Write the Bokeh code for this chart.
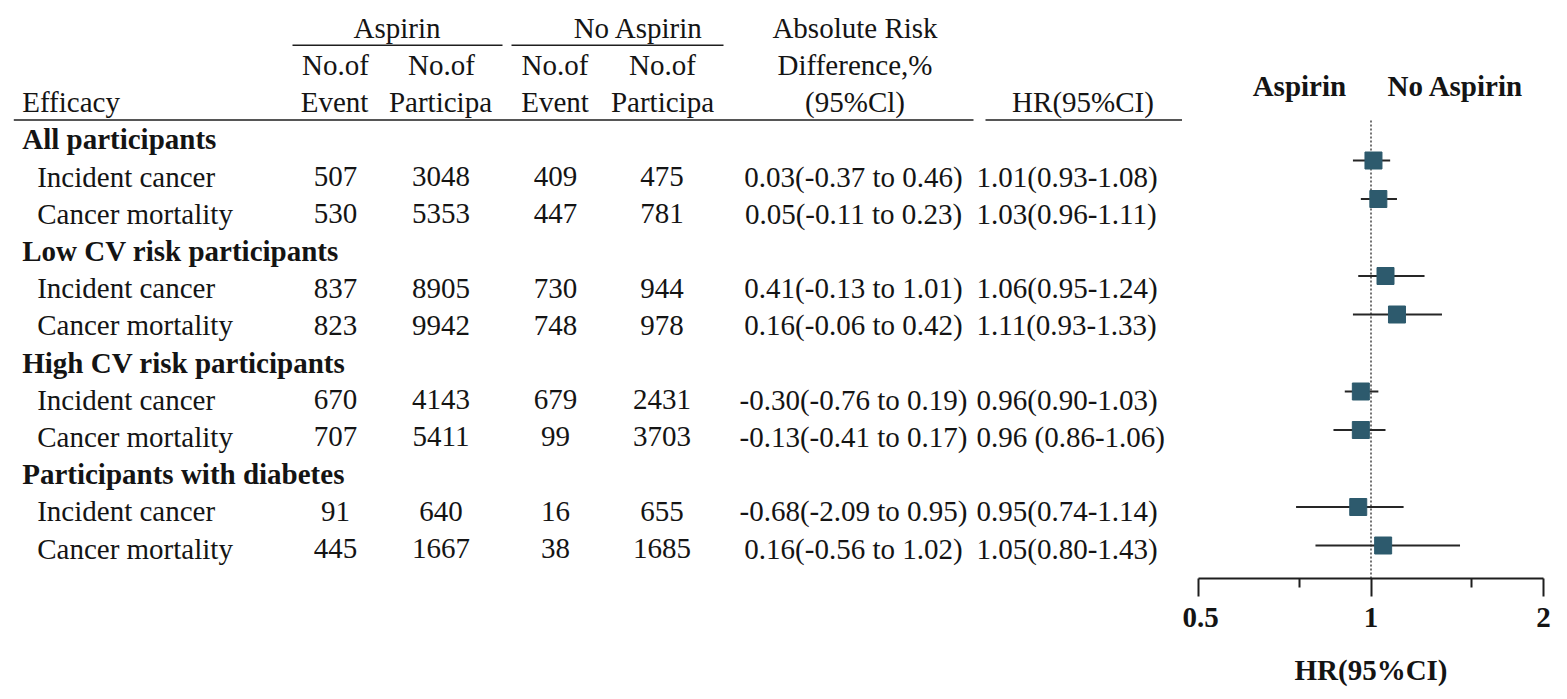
from bokeh.plotting import figure
from bokeh.layouts import row
from bokeh.models import Range1d, FixedTicker
from bokeh.core.properties import value
from bokeh.embed import file_html
from bokeh.resources import INLINE

# ---------------- data ----------------
groups = ["All participants", "Low CV risk participants",
          "High CV risk participants", "Participants with diabetes"]
outcomes = ["Incident cancer", "Cancer mortality"] * 4
asp_events = [507, 530, 837, 823, 670, 707, 91, 445]
asp_participants = [3048, 5353, 8905, 9942, 4143, 5411, 640, 1667]
noasp_events = [409, 447, 730, 748, 679, 99, 16, 38]
noasp_participants = [475, 781, 944, 978, 2431, 3703, 655, 1685]
ard_labels = ["0.03(-0.37 to 0.46)", "0.05(-0.11 to 0.23)",
              "0.41(-0.13 to 1.01)", "0.16(-0.06 to 0.42)",
              "-0.30(-0.76 to 0.19)", "-0.13(-0.41 to 0.17)",
              "-0.68(-2.09 to 0.95)", "0.16(-0.56 to 1.02)"]
hr_labels = ["1.01(0.93-1.08)", "1.03(0.96-1.11)", "1.06(0.95-1.24)",
             "1.11(0.93-1.33)", "0.96(0.90-1.03)", "0.96 (0.86-1.06)",
             "0.95(0.74-1.14)", "1.05(0.80-1.43)"]
hr = [1.01, 1.03, 1.06, 1.11, 0.96, 0.96, 0.95, 1.05]
hr_lo = [0.93, 0.96, 0.95, 0.93, 0.90, 0.86, 0.74, 0.80]
hr_hi = [1.08, 1.11, 1.24, 1.33, 1.03, 1.06, 1.14, 1.43]
x_ticks = [0.5, 1, 2]
x_minor_ticks = [0.75, 1.5]

# row indices: group heading rows and data rows
group_rows = [3 * g for g in range(len(groups))]
data_rows = [3 * (k // 2) + 1 + (k % 2) for k in range(len(outcomes))]

FONT = value("Liberation Serif")
FS = "29px"
TXT = "#141414"
LINE = "#1e1e1e"
TEXT_LIFT = 9.5        # px: rendered baseline sits this much lower than requested

H = 690
FRAME_BOT = 578.0      # y of the forest axis line
BORDER_B = H - int(FRAME_BOT)

# ---------------- table ----------------
ROW_H = 37.2
ROW0 = 148.3          # y of the baseline of row 0
TW = 1182
t = figure(width=TW, height=H, output_backend="svg", toolbar_location=None,
           x_range=Range1d(0, TW),
           y_range=Range1d((FRAME_BOT - ROW0) / ROW_H, (0 - ROW0) / ROW_H),
           x_axis_location=None, y_axis_location=None,
           min_border_left=0, min_border_right=0, min_border_top=0,
           min_border_bottom=BORDER_B,
           outline_line_color=None, background_fill_color=None,
           border_fill_color=None)
t.xgrid.visible = False
t.ygrid.visible = False


def txt(fig, x, y, s, row_h, align="center", bold=False):
    ys = [v - TEXT_LIFT / row_h for v in y]
    fig.text(x=x, y=ys, text=s, text_font=FONT, text_font_size=FS,
             text_align=align, text_baseline="alphabetic", text_color=TXT,
             text_font_style="bold" if bold else "normal")


# headers
txt(t, [396.5, 638, 854.5], [-3, -3, -3], ["Aspirin", "No Aspirin", "Absolute Risk"], ROW_H)
txt(t, [335, 441, 554.5, 662, 854.5], [-2] * 5,
    ["No.of", "No.of", "No.of", "No.of", "Difference,%"], ROW_H)
txt(t, [21.7], [-1], ["Efficacy"], ROW_H, align="left")
txt(t, [334, 440, 554.5, 662, 854.5, 1082.5], [-1] * 6,
    ["Event", "Participa", "Event", "Participa", "(95%Cl)", "HR(95%CI)"], ROW_H)

ul_top = (44.8 - ROW0) / ROW_H
ul_main = (119.5 - ROW0) / ROW_H
t.segment(x0=[292, 511, 13.3, 985], x1=[502, 723, 973, 1182],
          y0=[ul_top, ul_top, ul_main, ul_main],
          y1=[ul_top, ul_top, ul_main, ul_main],
          line_color=LINE, line_width=1.6)

# body
txt(t, [21.7] * len(groups), group_rows, groups, ROW_H, align="left", bold=True)
txt(t, [36.7] * len(outcomes), data_rows, outcomes, ROW_H, align="left")
txt(t, [335] * 8, data_rows, [str(v) for v in asp_events], ROW_H)
txt(t, [440.5] * 8, data_rows, [str(v) for v in asp_participants], ROW_H)
txt(t, [555] * 8, data_rows, [str(v) for v in noasp_events], ROW_H)
txt(t, [661.5] * 8, data_rows, [str(v) for v in noasp_participants], ROW_H)
txt(t, [853] * 8, data_rows, ard_labels, ROW_H)
txt(t, [976] * 8, data_rows, hr_labels, ROW_H, align="left")

# ---------------- forest ----------------
F_ROW_H = 38.5
F_ROW1 = 160.0        # y of row 1 centre
y_top = 1 + (0 - F_ROW1) / F_ROW_H
y_bot = 1 + (FRAME_BOT - F_ROW1) / F_ROW_H

f = figure(width=369, height=H, output_backend="svg", toolbar_location=None,
           x_axis_type="log", x_range=Range1d(0.5, 2),
           y_range=Range1d(y_bot, y_top), y_axis_location=None,
           min_border_left=16, min_border_right=8, min_border_top=0,
           min_border_bottom=BORDER_B,
           outline_line_color=None, background_fill_color=None,
           border_fill_color=None)
f.xgrid.visible = False
f.ygrid.visible = False

# reference line at HR = 1
f.segment(x0=[1], x1=[1], y0=[1 + (120 - F_ROW1) / F_ROW_H], y1=[y_bot],
          line_color="#444444", line_width=1.5, line_dash="2 2")

# CI whiskers and point estimates
f.segment(x0=hr_lo, x1=hr_hi, y0=data_rows, y1=data_rows,
          line_color="#262626", line_width=1.8)
f.scatter(x=hr, y=data_rows, marker="square", size=17,
          fill_color="#2d5a6d", line_color="#2d5a6d", line_join="round")

# side headers
hdr_y = 1 + (95 - F_ROW1) / F_ROW_H
txt(f, [0.75, 1.405], [hdr_y, hdr_y], ["Aspirin", "No Aspirin"], F_ROW_H, bold=True)

ax = f.xaxis[0]
ax.ticker = FixedTicker(ticks=x_ticks, minor_ticks=x_minor_ticks)
ax.major_label_overrides = {0.5: "0.5", 1: "1", 2: "2"}
ax.axis_line_color = LINE
ax.axis_line_width = 2
ax.major_tick_line_color = LINE
ax.major_tick_line_width = 2
ax.minor_tick_line_color = LINE
ax.minor_tick_line_width = 2
ax.major_tick_in = 0
ax.major_tick_out = 18
ax.minor_tick_in = 0
ax.minor_tick_out = 9
ax.major_label_text_font = "Liberation Serif"
ax.major_label_text_font_size = FS
ax.major_label_text_font_style = "bold"
ax.major_label_text_color = TXT
ax.major_label_standoff = 11
ax.axis_label = "HR(95%CI)"
ax.axis_label_text_font = "Liberation Serif"
ax.axis_label_text_font_size = FS
ax.axis_label_text_font_style = "bold"
ax.axis_label_text_color = TXT
ax.axis_label_standoff = 24

layout = row(t, f, spacing=0)
open("out.html", "w").write(file_html(layout, INLINE))
